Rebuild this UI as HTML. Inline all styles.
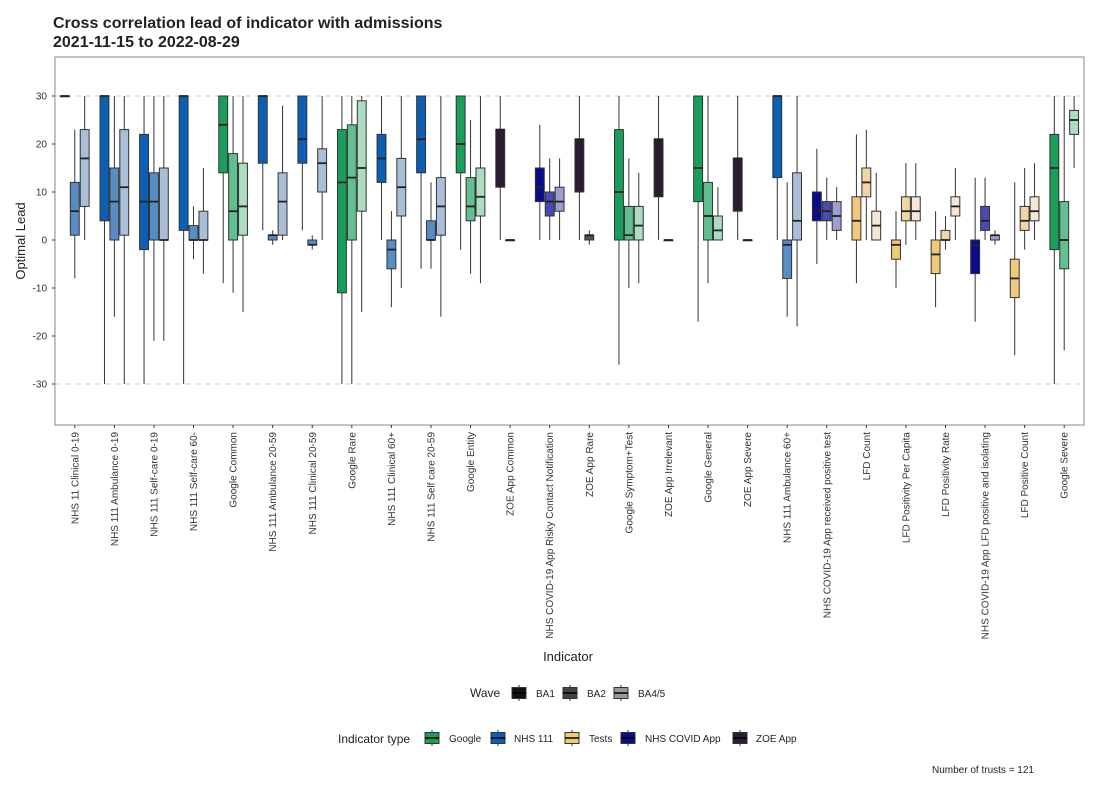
<!DOCTYPE html>
<html><head><meta charset="utf-8"><style>
body{margin:0;background:#fff;font-family:"Liberation Sans",sans-serif;}
</style></head><body>
<svg id="chart" width="1100" height="786" xmlns="http://www.w3.org/2000/svg">
<text x="53" y="28" font-size="16" font-weight="bold" fill="#222">Cross correlation lead of indicator with admissions</text>
<text x="53" y="47" font-size="16" font-weight="bold" fill="#222">2021-11-15 to 2022-08-29</text>
<rect x="55" y="57" width="1029" height="368" fill="#fff" stroke="#888" stroke-width="1"/>
<g id="grid"></g><g id="marks"></g><g id="yaxis"></g><g id="xaxis"></g>
<text transform="translate(25,241) rotate(-90)" text-anchor="middle" font-size="13" fill="#222">Optimal Lead</text>
<text x="568" y="661" text-anchor="middle" font-size="13" fill="#222">Indicator</text>
<g id="legend"></g>
<text x="932" y="773" font-size="10" fill="#222">Number of trusts = 121</text>
</svg>
<script>
const categories=["NHS 11 Clinical 0-19","NHS 111 Ambulance 0-19","NHS 111 Self-care 0-19","NHS 111 Self-care 60-","Google Common","NHS 111 Ambulance 20-59","NHS 111 Clinical 20-59","Google Rare","NHS 111 Clinical 60+","NHS 111 Self care 20-59","Google Entity","ZOE App Common","NHS COVID-19 App Risky Contact Notification","ZOE App Rare","Google Symptom+Test","ZOE App Irrelevant","Google General","ZOE App Severe","NHS 111 Ambulance 60+","NHS COVID-19 App received positive test","LFD Count","LFD Positivity Per Capita","LFD Positivity Rate","NHS COVID-19 App LFD positive and isolating","LFD Positive Count","Google Severe"];
const types=["NHS 111","NHS 111","NHS 111","NHS 111","Google","NHS 111","NHS 111","Google","NHS 111","NHS 111","Google","ZOE App","NHS COVID App","ZOE App","Google","ZOE App","Google","ZOE App","NHS 111","NHS COVID App","Tests","Tests","Tests","NHS COVID App","Tests","Google"];
const waves=["BA1","BA2","BA4/5"];
// [whiskerLow, q1, median, q3, whiskerHigh] per wave (null = absent)
const ba1=[[30,30,30,30,30],[-30,4,30,30,30],[-30,-2,8,22,30],[-30,2,30,30,30],[-9,14,24,30,30],[2,16,30,30,30],[2,16,21,30,30],[-30,-11,12,23,30],[0,12,17,22,30],[-6,14,21,30,30],[-2,14,20,30,30],[0,11,23,23,30],[0,8,11,15,24],[0,10,21,21,30],[-26,0,10,23,30],[0,9,21,21,30],[-17,8,15,30,30],[0,6,17,17,30],[0,13,30,30,30],[-5,4,6,10,19],[-9,0,4,9,22],[-10,-4,-1,0,6],[-14,-7,-3,0,6],[-17,-7,-1,0,13],[-24,-12,-8,-4,12],[-30,-2,15,22,30]];
const ba2=[[-8,1,6,12,23],[-16,0,8,15,30],[-21,0,8,14,30],[-4,0,0,3,7],[-11,0,6,18,30],[-1,0,1,1,2],[-2,-1,-1,0,1],[-30,0,13,24,30],[-14,-6,-2,0,6],[-6,0,0,4,12],[-7,4,7,13,25],[0,0,0,0,0],[0,5,8,10,17],[-1,0,1,1,2],[-10,0,1,7,17],[0,0,0,0,0],[-9,0,5,12,30],[0,0,0,0,0],[-16,-8,-1,0,12],[0,4,6,8,13],[0,9,12,15,23],[-1,4,6,9,16],[-2,0,0,2,5],[0,2,4,7,13],[-2,2,4,7,15],[-23,-6,0,8,30]];
const ba45=[[0,7,17,23,30],[-30,1,11,23,30],[-21,0,0,15,30],[-7,0,0,6,15],[-15,1,7,16,30],[0,1,8,14,28],[0,10,16,19,30],[-15,6,15,29,30],[-10,5,11,17,30],[-16,1,7,13,30],[-9,5,9,15,30],null,[0,6,8,11,17],null,[-9,0,3,7,14],null,[0,0,2,5,11],null,[-18,0,4,14,30],[0,2,5,8,11],[0,0,3,6,14],[0,4,6,9,16],[0,5,7,9,15],[-1,0,1,1,2],[0,4,6,9,16],[15,22,25,27,30]];
const yTicks=[30,20,10,0,-10,-20,-30];
const typeNames=["Google","NHS 111","Tests","NHS COVID App","ZOE App"];
const palette={"Google":["#1a9e5c","#62bf91","#acdcc2"],"NHS 111":["#0c5fb2","#5a8cc4","#a9bfd8"],"Tests":["#f1c97c","#f2d5a6","#f6e6d6"],"NHS COVID App":["#0b0b8e","#4a4ab2","#9d9dd2"],"ZOE App":["#2b1c33","#555058","#8f8a92"]};

const NS="http://www.w3.org/2000/svg";
const X0=55,X1=1084;
const bandW=(X1-X0)/categories.length;
const yS=v=>240-4.8*v;
const xS=i=>X0+bandW*(i+0.5);
function mk(tag,attrs,parent){const e=document.createElementNS(NS,tag);for(const k in attrs)e.setAttribute(k,attrs[k]);parent.appendChild(e);return e;}
const grid=document.getElementById('grid'),marks=document.getElementById('marks'),ya=document.getElementById('yaxis'),xa=document.getElementById('xaxis'),lg=document.getElementById('legend');
[30,-30].forEach(v=>{const l=mk('line',{x1:X0,x2:X1,y1:yS(v),y2:yS(v),stroke:'#c8d0d8','stroke-dasharray':'6,4','stroke-width':1},grid);

});
yTicks.forEach(v=>{const t=mk('text',{x:47,y:yS(v)+3.5,'text-anchor':'end','font-size':10,fill:'#333'},ya);t.textContent=v;


mk('line',{x1:52,x2:55,y1:yS(v),y2:yS(v),stroke:'#333'},ya);});
const series=[ba1,ba2,ba45];
const bw=bandW*0.75/3;
categories.forEach((c,i)=>{
  const cx=xS(i);
  const t=mk('text',{transform:`translate(${cx+3.5},432) rotate(-90)`,'text-anchor':'end','font-size':10,fill:'#333'},xa);t.textContent=c;
  
  
  mk('line',{x1:cx,x2:cx,y1:425,y2:428,stroke:'#333'},xa);
  series.forEach((s,w)=>{
    const d=s[i]; if(!d) return;
    const x=cx+(w-1)*bw;
    const g=mk('g',{},marks);
    
    
    mk('line',{x1:x,x2:x,y1:yS(d[4]),y2:yS(d[0]),stroke:'#333','stroke-width':1},g);
    const h=Math.max(yS(d[1])-yS(d[3]),0.8);
    mk('rect',{x:x-bw/2+0.5,y:yS(d[3]),width:bw-1,height:h,fill:palette[types[i]][w],stroke:'#333','stroke-width':1},g);
    mk('line',{x1:x-bw/2+0.5,x2:x+bw/2-0.5,y1:yS(d[2]),y2:yS(d[2]),stroke:'#222','stroke-width':1.8},g);
  });
});
function swatch(x,cy,fill){
  mk('line',{x1:x+7,x2:x+7,y1:cy-8,y2:cy+8,stroke:'#333'},lg);
  const r=mk('rect',{x:x,y:cy-5.5,width:14,height:11,fill:fill,stroke:'#333'},lg);
  mk('line',{x1:x,x2:x+14,y1:cy,y2:cy,stroke:'#000','stroke-width':1.5},lg);
  return r;
}
let t=mk('text',{x:470,y:697,'font-size':12,fill:'#222'},lg);t.textContent='Wave';

const wc=["#111","#444","#999"];
[[512,536],[563,587],[614,638]].forEach((p,j)=>{const r=swatch(p[0],693,wc[j]);

const tt=mk('text',{x:p[1],y:697,'font-size':10,fill:'#222'},lg);tt.textContent=waves[j];
});
t=mk('text',{x:338,y:743,'font-size':12,fill:'#222'},lg);t.textContent='Indicator type';

[[425,449],[491,514],[565,589],[621,645],[733,756]].forEach((p,j)=>{const r=swatch(p[0],738,palette[typeNames[j]][0]);

const tt=mk('text',{x:p[1],y:742,'font-size':10,fill:'#222'},lg);tt.textContent=typeNames[j];
});
</script>
</body></html>
